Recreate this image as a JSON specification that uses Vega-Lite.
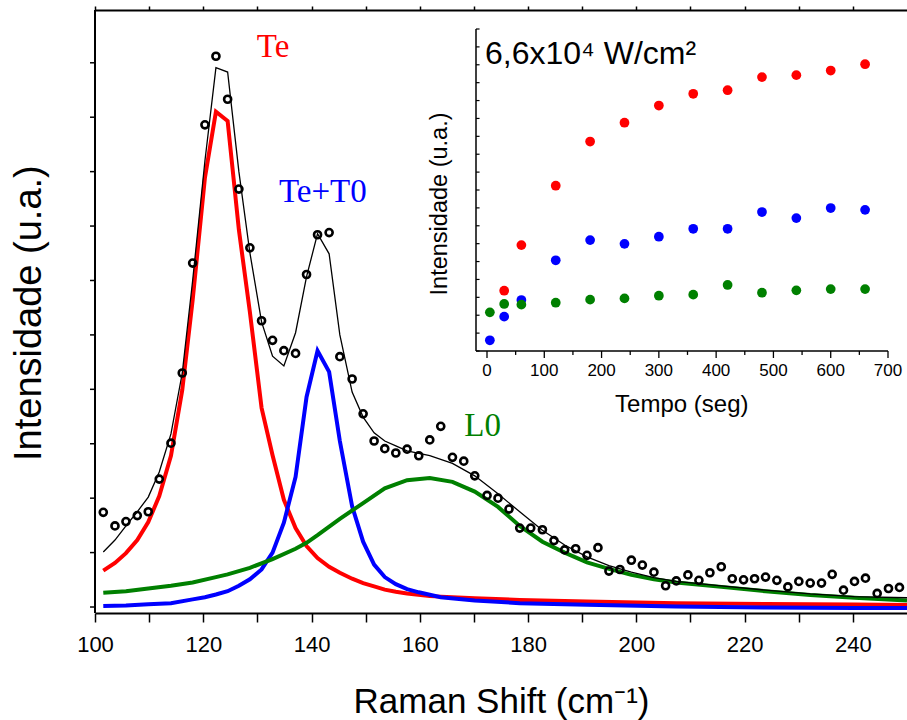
{
  "$schema": "https://vega.github.io/schema/vega-lite/v6.json",
  "width": 812,
  "height": 603,
  "autosize": {"type": "none"},
  "padding": {"left": 95, "top": 10, "right": 0, "bottom": 107},
  "background": "white",
  "config": {
    "view": {"stroke": null},
    "axis": {
      "grid": false,
      "domainColor": "black",
      "tickColor": "black",
      "labelColor": "black",
      "titleColor": "black",
      "labelFont": "Liberation Sans",
      "titleFont": "Liberation Sans",
      "titleFontWeight": "normal",
      "domainWidth": 2,
      "tickWidth": 1.5
    }
  },
  "datasets": {
    "spectrum": [
      {"x": 101.53, "y": 1.74}, {"x": 103.69, "y": 1.49}, {"x": 105.72, "y": 1.57}, {"x": 107.81, "y": 1.68},
      {"x": 109.84, "y": 1.75}, {"x": 111.87, "y": 2.35}, {"x": 114.03, "y": 3.01}, {"x": 116.12, "y": 4.30},
      {"x": 118.04, "y": 6.32}, {"x": 120.31, "y": 8.86}, {"x": 122.34, "y": 10.12}, {"x": 124.50, "y": 9.33},
      {"x": 126.58, "y": 7.68}, {"x": 128.61, "y": 6.60}, {"x": 130.77, "y": 5.26}, {"x": 132.80, "y": 4.90},
      {"x": 134.89, "y": 4.71}, {"x": 137.05, "y": 4.66}, {"x": 139.08, "y": 6.11}, {"x": 141.11, "y": 6.84},
      {"x": 143.25, "y": 6.88}, {"x": 145.23, "y": 4.60}, {"x": 147.50, "y": 4.19}, {"x": 149.53, "y": 3.55},
      {"x": 151.56, "y": 3.05}, {"x": 153.53, "y": 2.91}, {"x": 155.57, "y": 2.83}, {"x": 157.65, "y": 2.90},
      {"x": 159.81, "y": 2.78}, {"x": 161.84, "y": 3.07}, {"x": 163.87, "y": 3.32}, {"x": 166.03, "y": 2.75},
      {"x": 168.12, "y": 2.68}, {"x": 170.15, "y": 2.41}, {"x": 172.42, "y": 2.05}, {"x": 174.45, "y": 2.00},
      {"x": 176.48, "y": 1.80}, {"x": 178.46, "y": 1.45}, {"x": 180.49, "y": 1.45}, {"x": 182.65, "y": 1.42},
      {"x": 184.79, "y": 1.22}, {"x": 186.76, "y": 1.05}, {"x": 188.79, "y": 1.07}, {"x": 190.88, "y": 0.95},
      {"x": 192.91, "y": 1.09}, {"x": 194.94, "y": 0.66}, {"x": 196.97, "y": 0.69}, {"x": 199.08, "y": 0.86},
      {"x": 201.11, "y": 0.77}, {"x": 203.25, "y": 0.64}, {"x": 205.41, "y": 0.39}, {"x": 207.38, "y": 0.48},
      {"x": 209.53, "y": 0.59}, {"x": 211.56, "y": 0.49}, {"x": 213.59, "y": 0.63}, {"x": 215.69, "y": 0.74},
      {"x": 217.72, "y": 0.52}, {"x": 219.81, "y": 0.50}, {"x": 221.84, "y": 0.52}, {"x": 223.87, "y": 0.55},
      {"x": 225.96, "y": 0.49}, {"x": 227.99, "y": 0.37}, {"x": 230.02, "y": 0.47}, {"x": 232.12, "y": 0.44},
      {"x": 234.21, "y": 0.44}, {"x": 236.18, "y": 0.60}, {"x": 238.27, "y": 0.31}, {"x": 240.30, "y": 0.47},
      {"x": 242.33, "y": 0.53}, {"x": 244.49, "y": 0.25}, {"x": 246.58, "y": 0.34}, {"x": 248.61, "y": 0.36}
    ],
    "components": [
      {"series": "Te", "x": 101.53, "y": 0.67}, {"series": "Te", "x": 103.69, "y": 0.81}, {"series": "Te", "x": 105.72, "y": 0.99},
      {"series": "Te", "x": 107.81, "y": 1.23}, {"series": "Te", "x": 109.84, "y": 1.56}, {"series": "Te", "x": 111.87, "y": 2.04},
      {"series": "Te", "x": 114.03, "y": 2.78}, {"series": "Te", "x": 116.12, "y": 3.99}, {"series": "Te", "x": 118.04, "y": 5.64},
      {"series": "Te", "x": 120.31, "y": 7.89}, {"series": "Te", "x": 122.34, "y": 9.10}, {"series": "Te", "x": 124.50, "y": 8.93},
      {"series": "Te", "x": 126.58, "y": 6.93}, {"series": "Te", "x": 128.61, "y": 5.42}, {"series": "Te", "x": 130.77, "y": 3.66},
      {"series": "Te", "x": 132.80, "y": 2.79}, {"series": "Te", "x": 134.89, "y": 1.97}, {"series": "Te", "x": 137.05, "y": 1.45},
      {"series": "Te", "x": 139.08, "y": 1.12}, {"series": "Te", "x": 141.11, "y": 0.90}, {"series": "Te", "x": 143.25, "y": 0.74},
      {"series": "Te", "x": 145.23, "y": 0.63}, {"series": "Te", "x": 147.50, "y": 0.52}, {"series": "Te", "x": 149.53, "y": 0.44},
      {"series": "Te", "x": 151.56, "y": 0.38}, {"series": "Te", "x": 153.53, "y": 0.32}, {"series": "Te", "x": 155.57, "y": 0.28},
      {"series": "Te", "x": 157.65, "y": 0.25}, {"series": "Te", "x": 161.84, "y": 0.20}, {"series": "Te", "x": 170.15, "y": 0.16},
      {"series": "Te", "x": 178.46, "y": 0.13}, {"series": "Te", "x": 190.88, "y": 0.10}, {"series": "Te", "x": 207.38, "y": 0.07},
      {"series": "Te", "x": 223.87, "y": 0.055}, {"series": "Te", "x": 240.30, "y": 0.046}, {"series": "Te", "x": 250, "y": 0.037},

      {"series": "Te+T0", "x": 101.53, "y": 0.02}, {"series": "Te+T0", "x": 105.72, "y": 0.03}, {"series": "Te+T0", "x": 109.84, "y": 0.05},
      {"series": "Te+T0", "x": 114.03, "y": 0.07}, {"series": "Te+T0", "x": 118.04, "y": 0.14}, {"series": "Te+T0", "x": 120.31, "y": 0.18},
      {"series": "Te+T0", "x": 122.34, "y": 0.23}, {"series": "Te+T0", "x": 124.50, "y": 0.29}, {"series": "Te+T0", "x": 126.58, "y": 0.39},
      {"series": "Te+T0", "x": 128.61, "y": 0.51}, {"series": "Te+T0", "x": 130.77, "y": 0.69}, {"series": "Te+T0", "x": 132.80, "y": 1.00},
      {"series": "Te+T0", "x": 134.89, "y": 1.55}, {"series": "Te+T0", "x": 137.05, "y": 2.39}, {"series": "Te+T0", "x": 139.08, "y": 3.86},
      {"series": "Te+T0", "x": 141.11, "y": 4.71}, {"series": "Te+T0", "x": 143.25, "y": 4.32}, {"series": "Te+T0", "x": 145.23, "y": 3.05},
      {"series": "Te+T0", "x": 147.50, "y": 1.85}, {"series": "Te+T0", "x": 149.53, "y": 1.20}, {"series": "Te+T0", "x": 151.56, "y": 0.78},
      {"series": "Te+T0", "x": 153.53, "y": 0.55}, {"series": "Te+T0", "x": 155.57, "y": 0.42}, {"series": "Te+T0", "x": 157.65, "y": 0.33},
      {"series": "Te+T0", "x": 159.81, "y": 0.27}, {"series": "Te+T0", "x": 163.87, "y": 0.18}, {"series": "Te+T0", "x": 170.15, "y": 0.12},
      {"series": "Te+T0", "x": 178.46, "y": 0.07}, {"series": "Te+T0", "x": 190.88, "y": 0.04}, {"series": "Te+T0", "x": 207.38, "y": 0.01},
      {"series": "Te+T0", "x": 223.87, "y": -0.01}, {"series": "Te+T0", "x": 240.30, "y": -0.02}, {"series": "Te+T0", "x": 250, "y": -0.02},

      {"series": "L0", "x": 101.53, "y": 0.26}, {"series": "L0", "x": 105.72, "y": 0.29}, {"series": "L0", "x": 109.84, "y": 0.34},
      {"series": "L0", "x": 114.03, "y": 0.39}, {"series": "L0", "x": 118.04, "y": 0.45}, {"series": "L0", "x": 122.34, "y": 0.55},
      {"series": "L0", "x": 124.50, "y": 0.60}, {"series": "L0", "x": 128.61, "y": 0.72}, {"series": "L0", "x": 132.80, "y": 0.88},
      {"series": "L0", "x": 137.05, "y": 1.07}, {"series": "L0", "x": 139.08, "y": 1.18}, {"series": "L0", "x": 141.11, "y": 1.32},
      {"series": "L0", "x": 145.23, "y": 1.62}, {"series": "L0", "x": 149.53, "y": 1.91}, {"series": "L0", "x": 153.53, "y": 2.18},
      {"series": "L0", "x": 157.65, "y": 2.33}, {"series": "L0", "x": 161.84, "y": 2.37}, {"series": "L0", "x": 166.03, "y": 2.30},
      {"series": "L0", "x": 170.15, "y": 2.12}, {"series": "L0", "x": 174.45, "y": 1.84}, {"series": "L0", "x": 178.46, "y": 1.49},
      {"series": "L0", "x": 182.65, "y": 1.20}, {"series": "L0", "x": 186.76, "y": 1.00}, {"series": "L0", "x": 190.88, "y": 0.82},
      {"series": "L0", "x": 194.94, "y": 0.70}, {"series": "L0", "x": 199.08, "y": 0.59}, {"series": "L0", "x": 203.25, "y": 0.51},
      {"series": "L0", "x": 207.38, "y": 0.45}, {"series": "L0", "x": 215.69, "y": 0.37}, {"series": "L0", "x": 223.87, "y": 0.29},
      {"series": "L0", "x": 232.12, "y": 0.22}, {"series": "L0", "x": 240.30, "y": 0.17}, {"series": "L0", "x": 250, "y": 0.12}
    ],
    "fit": [
      {"x": 101.53, "y": 1.01}, {"x": 103.69, "y": 1.23}, {"x": 105.72, "y": 1.49}, {"x": 107.81, "y": 1.75},
      {"x": 109.84, "y": 2.02}, {"x": 111.87, "y": 2.48}, {"x": 114.03, "y": 3.18}, {"x": 116.12, "y": 4.30},
      {"x": 118.04, "y": 6.00}, {"x": 120.31, "y": 8.20}, {"x": 122.34, "y": 9.91}, {"x": 124.50, "y": 9.83},
      {"x": 126.58, "y": 8.00}, {"x": 128.61, "y": 6.51}, {"x": 130.77, "y": 5.24}, {"x": 132.80, "y": 4.61},
      {"x": 134.89, "y": 4.43}, {"x": 137.05, "y": 5.04}, {"x": 139.08, "y": 6.07}, {"x": 141.11, "y": 6.86},
      {"x": 143.25, "y": 6.49}, {"x": 145.23, "y": 5.00}, {"x": 147.50, "y": 3.95}, {"x": 149.53, "y": 3.49},
      {"x": 151.56, "y": 3.20}, {"x": 153.53, "y": 3.05}, {"x": 155.57, "y": 2.96}, {"x": 157.65, "y": 2.87},
      {"x": 161.84, "y": 2.78}, {"x": 166.03, "y": 2.64}, {"x": 170.15, "y": 2.41}, {"x": 174.45, "y": 2.08},
      {"x": 178.46, "y": 1.75}, {"x": 182.65, "y": 1.41}, {"x": 186.76, "y": 1.14}, {"x": 190.88, "y": 0.92},
      {"x": 194.94, "y": 0.76}, {"x": 199.08, "y": 0.64}, {"x": 203.25, "y": 0.54}, {"x": 207.38, "y": 0.47},
      {"x": 215.69, "y": 0.39}, {"x": 223.87, "y": 0.31}, {"x": 232.12, "y": 0.24}, {"x": 240.30, "y": 0.19},
      {"x": 250, "y": 0.17}
    ],
    "peakLabels": [
      {"x": 132.9, "y": 10.11, "label": "Te", "series": "Te"},
      {"x": 142.1, "y": 7.44, "label": "Te+T0", "series": "Te+T0"},
      {"x": 171.6, "y": 3.14, "label": "L0", "series": "L0"}
    ],
    "mainYTicks": [
      {"v": 0}, {"v": 1}, {"v": 2}, {"v": 3}, {"v": 4}, {"v": 5}, {"v": 6}, {"v": 7}, {"v": 8}, {"v": 9}, {"v": 10}
    ],
    "kinetics": [
      {"series": "Te", "t": 30, "v": 3.37}, {"series": "Te", "t": 60, "v": 5.92}, {"series": "Te", "t": 120, "v": 9.24},
      {"series": "Te", "t": 180, "v": 11.71}, {"series": "Te", "t": 240, "v": 12.76}, {"series": "Te", "t": 300, "v": 13.72},
      {"series": "Te", "t": 360, "v": 14.38}, {"series": "Te", "t": 420, "v": 14.58}, {"series": "Te", "t": 480, "v": 15.31},
      {"series": "Te", "t": 540, "v": 15.42}, {"series": "Te", "t": 600, "v": 15.68}, {"series": "Te", "t": 660, "v": 16.03},
      {"series": "Te+T0", "t": 5, "v": 0.60}, {"series": "Te+T0", "t": 30, "v": 1.92}, {"series": "Te+T0", "t": 60, "v": 2.85},
      {"series": "Te+T0", "t": 120, "v": 5.07}, {"series": "Te+T0", "t": 180, "v": 6.20}, {"series": "Te+T0", "t": 240, "v": 5.99},
      {"series": "Te+T0", "t": 300, "v": 6.39}, {"series": "Te+T0", "t": 360, "v": 6.83}, {"series": "Te+T0", "t": 420, "v": 6.83},
      {"series": "Te+T0", "t": 480, "v": 7.77}, {"series": "Te+T0", "t": 540, "v": 7.43}, {"series": "Te+T0", "t": 600, "v": 7.99},
      {"series": "Te+T0", "t": 660, "v": 7.89},
      {"series": "L0", "t": 5, "v": 2.16}, {"series": "L0", "t": 30, "v": 2.63}, {"series": "L0", "t": 60, "v": 2.59},
      {"series": "L0", "t": 120, "v": 2.70}, {"series": "L0", "t": 180, "v": 2.87}, {"series": "L0", "t": 240, "v": 2.94},
      {"series": "L0", "t": 300, "v": 3.09}, {"series": "L0", "t": 360, "v": 3.15}, {"series": "L0", "t": 420, "v": 3.69},
      {"series": "L0", "t": 480, "v": 3.26}, {"series": "L0", "t": 540, "v": 3.39}, {"series": "L0", "t": 600, "v": 3.46},
      {"series": "L0", "t": 660, "v": 3.46}
    ],
    "insetXTicks": [
      {"t": 0, "major": true}, {"t": 50, "major": false}, {"t": 100, "major": true}, {"t": 150, "major": false},
      {"t": 200, "major": true}, {"t": 250, "major": false}, {"t": 300, "major": true}, {"t": 350, "major": false},
      {"t": 400, "major": true}, {"t": 450, "major": false}, {"t": 500, "major": true}, {"t": 550, "major": false},
      {"t": 600, "major": true}, {"t": 650, "major": false}, {"t": 700, "major": true}
    ],
    "insetYTicks": [
      {"v": 0}, {"v": 1}, {"v": 2}, {"v": 3}, {"v": 4}, {"v": 5}, {"v": 6}, {"v": 7}, {"v": 8}, {"v": 9},
      {"v": 10}, {"v": 11}, {"v": 12}, {"v": 13}, {"v": 14}, {"v": 15}, {"v": 16}, {"v": 17}, {"v": 18}
    ],
    "insetNote": [
      {"label": "6,6x10⁴ W/cm²"}
    ]
  },
  "layer": [
    {
      "layer": [
        {
          "data": {"name": "components"},
          "mark": {"type": "line", "strokeWidth": 4},
          "encoding": {
            "x": {
              "field": "x", "type": "quantitative",
              "scale": {"domain": [100, 250], "nice": false, "zero": false},
              "axis": {
                "orient": "bottom",
                "values": [100, 110, 120, 130, 140, 150, 160, 170, 180, 190, 200, 210, 220, 230, 240],
                "labelExpr": "datum.value % 20 === 0 ? datum.label : ''",
                "labelOverlap": false,
                "labelFlush": false,
                "tickSize": 9,
                "labelFontSize": 22,
                "labelPadding": 12,
                "title": "Raman Shift (cm⁻¹)",
                "titleFontSize": 35,
                "titlePadding": 29
              }
            },
            "y": {
              "field": "y", "type": "quantitative",
              "scale": {"domain": [-0.11, 10.97], "nice": false, "zero": false},
              "axis": null
            },
            "color": {
              "field": "series", "type": "nominal",
              "scale": {"domain": ["Te", "Te+T0", "L0"], "range": ["#ff0000", "#0000ff", "#008000"]},
              "legend": null
            }
          }
        },
        {
          "data": {"name": "fit"},
          "mark": {"type": "line", "strokeWidth": 1.3, "color": "black"},
          "encoding": {
            "x": {"field": "x", "type": "quantitative", "axis": null},
            "y": {"field": "y", "type": "quantitative", "axis": null}
          }
        },
        {
          "data": {"name": "spectrum"},
          "mark": {"type": "point", "filled": false, "stroke": "black", "strokeWidth": 2.6, "size": 50, "opacity": 1},
          "encoding": {
            "x": {"field": "x", "type": "quantitative", "axis": null},
            "y": {"field": "y", "type": "quantitative", "axis": null}
          }
        },
        {
          "data": {"name": "peakLabels"},
          "mark": {"type": "text", "font": "Liberation Serif", "fontSize": 33, "align": "center", "baseline": "alphabetic"},
          "encoding": {
            "x": {
              "field": "x", "type": "quantitative",
              "axis": {
                "orient": "top",
                "values": [100, 110, 120, 130, 140, 150, 160, 170, 180, 190, 200, 210, 220, 230, 240],
                "labels": false,
                "tickSize": 4,
                "title": null
              }
            },
            "y": {"field": "y", "type": "quantitative", "axis": null},
            "text": {"field": "label"},
            "color": {"field": "series", "type": "nominal", "legend": null}
          }
        },
        {
          "data": {"values": [{"label": "main y axis"}]},
          "mark": {"type": "rule", "color": "black", "strokeWidth": 2},
          "encoding": {
            "x": {"datum": 100, "type": "quantitative", "axis": null},
            "y": {"datum": -0.11, "type": "quantitative", "axis": null},
            "y2": {"datum": 10.97}
          }
        },
        {
          "data": {"name": "mainYTicks"},
          "mark": {"type": "rule", "color": "black", "strokeWidth": 1.5},
          "encoding": {
            "x": {"datum": 100, "type": "quantitative", "axis": null},
            "x2": {"datum": 99.08},
            "y": {"field": "v", "type": "quantitative", "axis": null}
          }
        },
        {
          "data": {"values": [{"label": "Intensidade (u.a.)"}]},
          "mark": {"type": "text", "font": "Liberation Sans", "fontSize": 38, "angle": 270, "align": "center", "baseline": "middle", "color": "black"},
          "encoding": {
            "x": {"datum": 88.0, "type": "quantitative", "axis": null},
            "y": {"datum": 5.40, "type": "quantitative", "axis": null},
            "text": {"field": "label"}
          }
        }
      ]
    },
    {
      "layer": [
        {
          "data": {"name": "kinetics"},
          "mark": {"type": "point", "filled": true, "size": 95, "opacity": 1, "strokeWidth": 0},
          "encoding": {
            "x": {
              "field": "t", "type": "quantitative",
              "scale": {"domain": [-19.2, 700], "range": [381, 793], "nice": false, "zero": false},
              "axis": null
            },
            "y": {
              "field": "v", "type": "quantitative",
              "scale": {"domain": [0, 18], "range": [341, 19], "nice": false, "zero": false},
              "axis": null
            },
            "color": {"field": "series", "type": "nominal", "legend": null}
          }
        },
        {
          "data": {"values": [{"label": "inset x axis"}]},
          "mark": {"type": "rule", "color": "black", "strokeWidth": 1.5},
          "encoding": {
            "x": {"datum": -19.2, "type": "quantitative", "axis": null},
            "x2": {"datum": 700},
            "y": {"datum": 0, "type": "quantitative", "axis": null}
          }
        },
        {
          "data": {"values": [{"label": "inset y axis"}]},
          "mark": {"type": "rule", "color": "black", "strokeWidth": 1.5},
          "encoding": {
            "x": {"datum": -19.2, "type": "quantitative", "axis": null},
            "y": {"datum": 0, "type": "quantitative", "axis": null},
            "y2": {"datum": 18}
          }
        },
        {
          "data": {"name": "insetXTicks"},
          "transform": [{"filter": "datum.major"}],
          "mark": {"type": "rule", "color": "black", "strokeWidth": 1.3},
          "encoding": {
            "x": {"field": "t", "type": "quantitative", "axis": null},
            "y": {"datum": 0, "type": "quantitative", "axis": null},
            "y2": {"datum": -0.39}
          }
        },
        {
          "data": {"name": "insetXTicks"},
          "transform": [{"filter": "!datum.major"}],
          "mark": {"type": "rule", "color": "black", "strokeWidth": 1.3},
          "encoding": {
            "x": {"field": "t", "type": "quantitative", "axis": null},
            "y": {"datum": 0, "type": "quantitative", "axis": null},
            "y2": {"datum": -0.22}
          }
        },
        {
          "data": {"name": "insetXTicks"},
          "transform": [{"filter": "datum.major"}],
          "mark": {"type": "text", "font": "Liberation Sans", "fontSize": 17, "align": "center", "baseline": "middle", "color": "black"},
          "encoding": {
            "x": {"field": "t", "type": "quantitative", "axis": null},
            "y": {"datum": -1.12, "type": "quantitative", "axis": null},
            "text": {"field": "t", "type": "quantitative", "format": "d"}
          }
        },
        {
          "data": {"values": [{"label": "Tempo (seg)"}]},
          "mark": {"type": "text", "font": "Liberation Sans", "fontSize": 24, "align": "center", "baseline": "alphabetic", "color": "black"},
          "encoding": {
            "x": {"datum": 340, "type": "quantitative", "axis": null},
            "y": {"datum": -3.41, "type": "quantitative", "axis": null},
            "text": {"field": "label"}
          }
        },
        {
          "data": {"name": "insetYTicks"},
          "mark": {"type": "rule", "color": "black", "strokeWidth": 1.2},
          "encoding": {
            "x": {"datum": -19.2, "type": "quantitative", "axis": null},
            "x2": {"datum": -13.0},
            "y": {"field": "v", "type": "quantitative", "axis": null}
          }
        },
        {
          "data": {"values": [{"label": "Intensidade (u.a.)"}]},
          "mark": {"type": "text", "font": "Liberation Sans", "fontSize": 23.5, "angle": 270, "align": "center", "baseline": "middle", "color": "black"},
          "encoding": {
            "x": {"datum": -82, "type": "quantitative", "axis": null},
            "y": {"datum": 8.22, "type": "quantitative", "axis": null},
            "text": {"field": "label"}
          }
        },
        {
          "data": {"name": "insetNote"},
          "mark": {"type": "text", "font": "Liberation Sans", "fontSize": 32, "align": "left", "baseline": "alphabetic", "color": "black"},
          "encoding": {
            "x": {"datum": -3.5, "type": "quantitative", "axis": null},
            "y": {"datum": 16.03, "type": "quantitative", "axis": null},
            "text": {"field": "label"}
          }
        }
      ]
    }
  ],
  "resolve": {
    "scale": {"x": "independent", "y": "independent"},
    "axis": {"x": "independent", "y": "independent"}
  }
}
